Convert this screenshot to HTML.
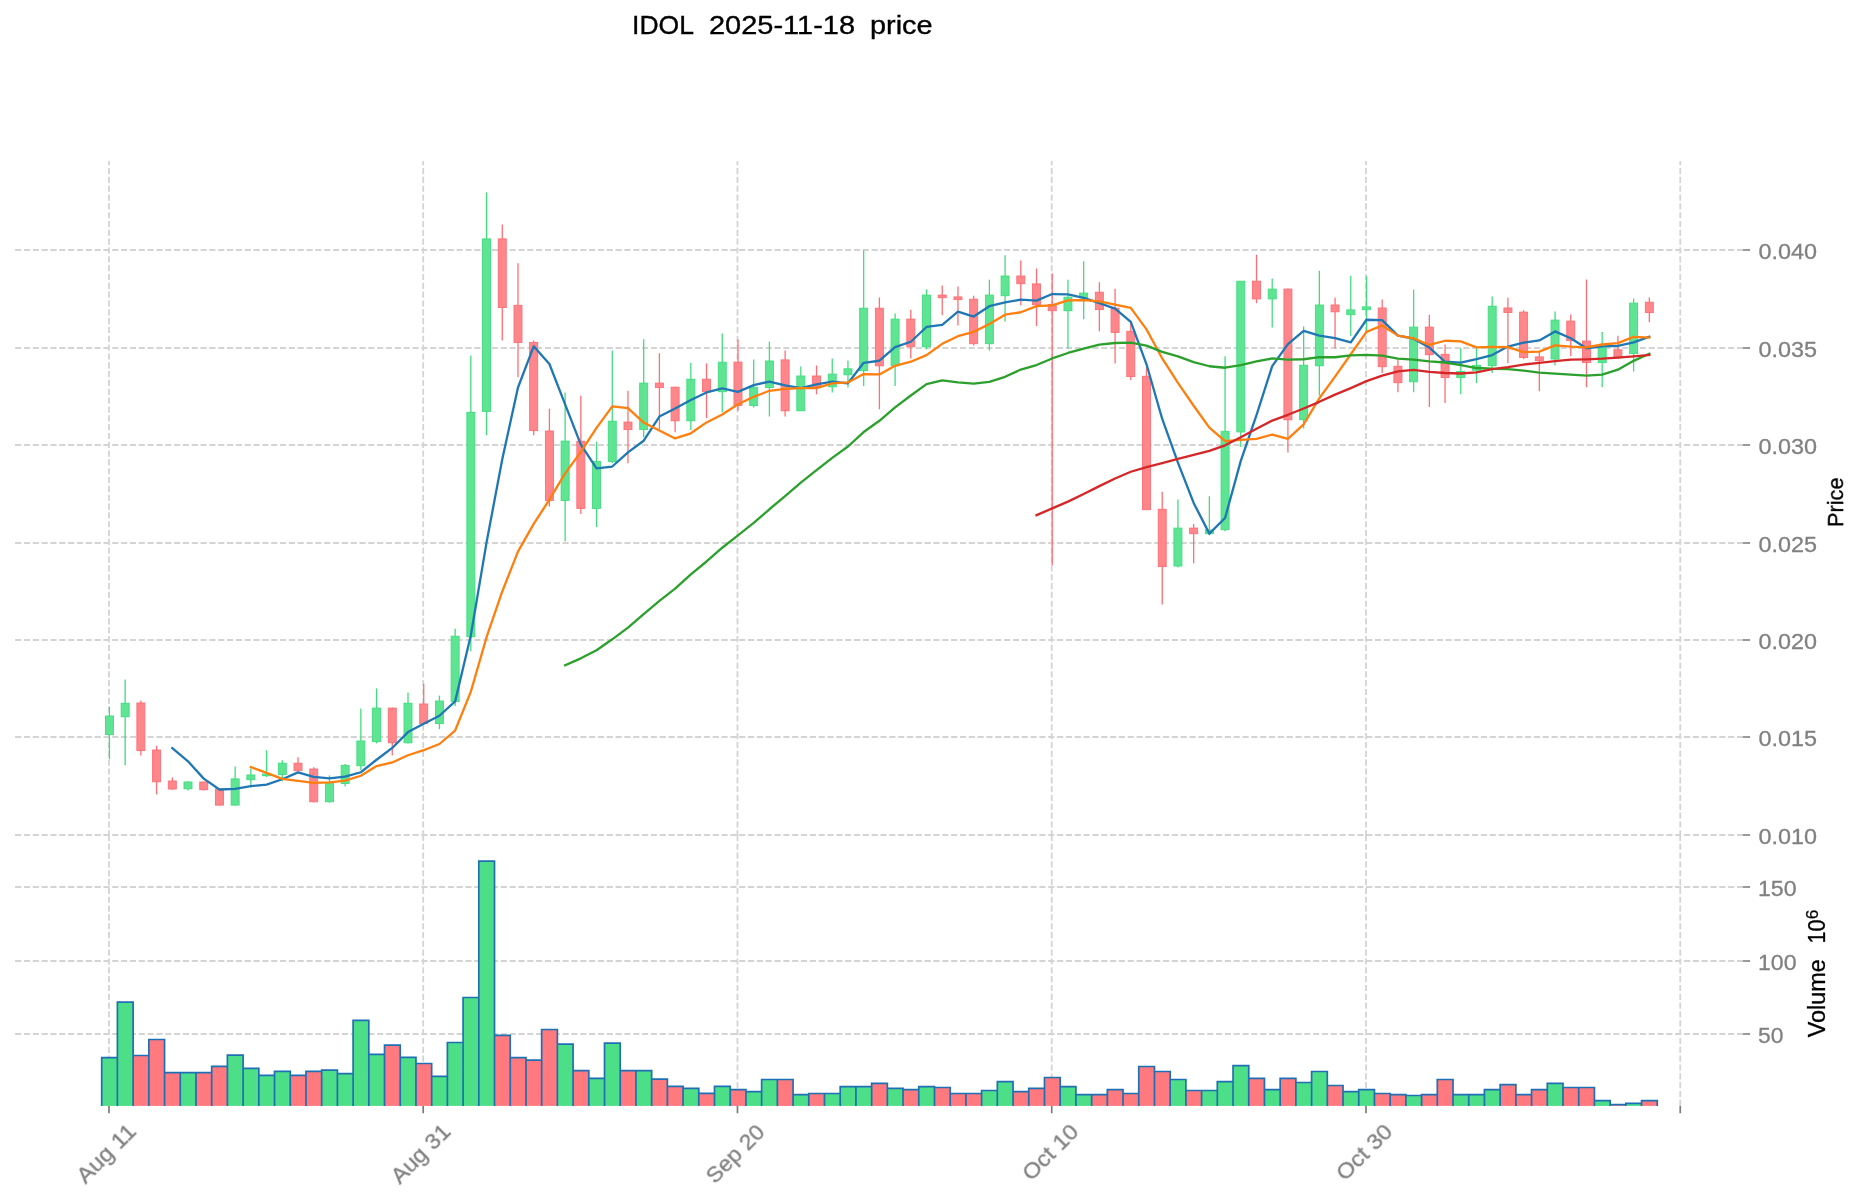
<!DOCTYPE html>
<html><head><meta charset="utf-8"><title>IDOL price</title>
<style>html,body{margin:0;padding:0;background:#fff;width:1860px;height:1202px;overflow:hidden}svg{display:block}</style>
</head><body>
<svg width="1860" height="1202" viewBox="0 0 1860 1202"><rect x="0" y="0" width="1860" height="1202" fill="#ffffff"/><path d="M15.10 835.00H1742.80M15.10 737.00H1742.80M15.10 640.00H1742.80M15.10 543.00H1742.80M15.10 445.00H1742.80M15.10 348.00H1742.80M15.10 250.00H1742.80M108.95 836.40V161.00M423.21 836.40V161.00M737.47 836.40V161.00M1051.73 836.40V161.00M1365.99 836.40V161.00M1680.25 836.40V161.00M15.10 1034.00H1742.80M15.10 961.00H1742.80M15.10 887.00H1742.80M108.95 1105.90V834.30M423.21 1105.90V834.30M737.47 1105.90V834.30M1051.73 1105.90V834.30M1365.99 1105.90V834.30M1680.25 1105.90V834.30" stroke="#d4d4d4" stroke-width="1.8" stroke-dasharray="6.17 2.66" fill="none"/><rect x="101.69" y="1057.60" width="15.71" height="48.30" fill="#4ddf87"/><rect x="117.40" y="1002.20" width="15.71" height="103.70" fill="#4ddf87"/><rect x="133.12" y="1055.50" width="15.71" height="50.40" fill="#ff797e"/><rect x="148.83" y="1039.50" width="15.71" height="66.40" fill="#ff797e"/><rect x="164.54" y="1072.70" width="15.71" height="33.20" fill="#ff797e"/><rect x="180.25" y="1072.70" width="15.71" height="33.20" fill="#4ddf87"/><rect x="195.97" y="1072.70" width="15.71" height="33.20" fill="#ff797e"/><rect x="211.68" y="1066.40" width="15.71" height="39.50" fill="#ff797e"/><rect x="227.39" y="1055.20" width="15.71" height="50.70" fill="#4ddf87"/><rect x="243.11" y="1068.40" width="15.71" height="37.50" fill="#4ddf87"/><rect x="258.82" y="1075.30" width="15.71" height="30.60" fill="#4ddf87"/><rect x="274.53" y="1071.40" width="15.71" height="34.50" fill="#4ddf87"/><rect x="290.25" y="1075.30" width="15.71" height="30.60" fill="#ff797e"/><rect x="305.96" y="1071.40" width="15.71" height="34.50" fill="#ff797e"/><rect x="321.67" y="1070.20" width="15.71" height="35.70" fill="#4ddf87"/><rect x="337.38" y="1073.60" width="15.71" height="32.30" fill="#4ddf87"/><rect x="353.10" y="1020.30" width="15.71" height="85.60" fill="#4ddf87"/><rect x="368.81" y="1054.30" width="15.71" height="51.60" fill="#4ddf87"/><rect x="384.52" y="1045.20" width="15.71" height="60.70" fill="#ff797e"/><rect x="400.24" y="1057.30" width="15.71" height="48.60" fill="#4ddf87"/><rect x="415.95" y="1063.50" width="15.71" height="42.40" fill="#ff797e"/><rect x="431.66" y="1076.40" width="15.71" height="29.50" fill="#4ddf87"/><rect x="447.38" y="1042.50" width="15.71" height="63.40" fill="#4ddf87"/><rect x="463.09" y="997.50" width="15.71" height="108.40" fill="#4ddf87"/><rect x="478.80" y="861.20" width="15.71" height="244.70" fill="#4ddf87"/><rect x="494.51" y="1035.30" width="15.71" height="70.60" fill="#ff797e"/><rect x="510.23" y="1057.60" width="15.71" height="48.30" fill="#ff797e"/><rect x="525.94" y="1060.20" width="15.71" height="45.70" fill="#ff797e"/><rect x="541.65" y="1029.50" width="15.71" height="76.40" fill="#ff797e"/><rect x="557.37" y="1044.20" width="15.71" height="61.70" fill="#4ddf87"/><rect x="573.08" y="1070.60" width="15.71" height="35.30" fill="#ff797e"/><rect x="588.79" y="1078.40" width="15.71" height="27.50" fill="#4ddf87"/><rect x="604.51" y="1043.10" width="15.71" height="62.80" fill="#4ddf87"/><rect x="620.22" y="1070.60" width="15.71" height="35.30" fill="#ff797e"/><rect x="635.93" y="1070.60" width="15.71" height="35.30" fill="#4ddf87"/><rect x="651.64" y="1079.20" width="15.71" height="26.70" fill="#ff797e"/><rect x="667.36" y="1086.40" width="15.71" height="19.50" fill="#ff797e"/><rect x="683.07" y="1088.30" width="15.71" height="17.60" fill="#4ddf87"/><rect x="698.78" y="1093.30" width="15.71" height="12.60" fill="#ff797e"/><rect x="714.50" y="1086.40" width="15.71" height="19.50" fill="#4ddf87"/><rect x="730.21" y="1089.60" width="15.71" height="16.30" fill="#ff797e"/><rect x="745.92" y="1091.70" width="15.71" height="14.20" fill="#4ddf87"/><rect x="761.64" y="1079.50" width="15.71" height="26.40" fill="#4ddf87"/><rect x="777.35" y="1079.50" width="15.71" height="26.40" fill="#ff797e"/><rect x="793.06" y="1094.60" width="15.71" height="11.30" fill="#4ddf87"/><rect x="808.77" y="1093.50" width="15.71" height="12.40" fill="#ff797e"/><rect x="824.49" y="1093.50" width="15.71" height="12.40" fill="#4ddf87"/><rect x="840.20" y="1086.60" width="15.71" height="19.30" fill="#4ddf87"/><rect x="855.91" y="1086.60" width="15.71" height="19.30" fill="#4ddf87"/><rect x="871.63" y="1083.40" width="15.71" height="22.50" fill="#ff797e"/><rect x="887.34" y="1088.40" width="15.71" height="17.50" fill="#4ddf87"/><rect x="903.05" y="1089.60" width="15.71" height="16.30" fill="#ff797e"/><rect x="918.77" y="1086.60" width="15.71" height="19.30" fill="#4ddf87"/><rect x="934.48" y="1087.50" width="15.71" height="18.40" fill="#ff797e"/><rect x="950.19" y="1093.50" width="15.71" height="12.40" fill="#ff797e"/><rect x="965.90" y="1093.50" width="15.71" height="12.40" fill="#ff797e"/><rect x="981.62" y="1090.50" width="15.71" height="15.40" fill="#4ddf87"/><rect x="997.33" y="1081.60" width="15.71" height="24.30" fill="#4ddf87"/><rect x="1013.04" y="1091.70" width="15.71" height="14.20" fill="#ff797e"/><rect x="1028.76" y="1088.40" width="15.71" height="17.50" fill="#ff797e"/><rect x="1044.47" y="1077.50" width="15.71" height="28.40" fill="#ff797e"/><rect x="1060.18" y="1086.60" width="15.71" height="19.30" fill="#4ddf87"/><rect x="1075.90" y="1094.60" width="15.71" height="11.30" fill="#4ddf87"/><rect x="1091.61" y="1094.60" width="15.71" height="11.30" fill="#ff797e"/><rect x="1107.32" y="1089.60" width="15.71" height="16.30" fill="#ff797e"/><rect x="1123.03" y="1093.50" width="15.71" height="12.40" fill="#ff797e"/><rect x="1138.75" y="1066.50" width="15.71" height="39.40" fill="#ff797e"/><rect x="1154.46" y="1071.50" width="15.71" height="34.40" fill="#ff797e"/><rect x="1170.17" y="1079.50" width="15.71" height="26.40" fill="#4ddf87"/><rect x="1185.89" y="1090.50" width="15.71" height="15.40" fill="#ff797e"/><rect x="1201.60" y="1090.50" width="15.71" height="15.40" fill="#4ddf87"/><rect x="1217.31" y="1081.60" width="15.71" height="24.30" fill="#4ddf87"/><rect x="1233.03" y="1065.60" width="15.71" height="40.30" fill="#4ddf87"/><rect x="1248.74" y="1078.40" width="15.71" height="27.50" fill="#ff797e"/><rect x="1264.45" y="1089.60" width="15.71" height="16.30" fill="#4ddf87"/><rect x="1280.16" y="1078.40" width="15.71" height="27.50" fill="#ff797e"/><rect x="1295.88" y="1082.50" width="15.71" height="23.40" fill="#4ddf87"/><rect x="1311.59" y="1071.50" width="15.71" height="34.40" fill="#4ddf87"/><rect x="1327.30" y="1085.50" width="15.71" height="20.40" fill="#ff797e"/><rect x="1343.02" y="1091.70" width="15.71" height="14.20" fill="#4ddf87"/><rect x="1358.73" y="1089.60" width="15.71" height="16.30" fill="#4ddf87"/><rect x="1374.44" y="1093.50" width="15.71" height="12.40" fill="#ff797e"/><rect x="1390.16" y="1094.60" width="15.71" height="11.30" fill="#ff797e"/><rect x="1405.87" y="1095.50" width="15.71" height="10.40" fill="#4ddf87"/><rect x="1421.58" y="1094.60" width="15.71" height="11.30" fill="#ff797e"/><rect x="1437.30" y="1079.50" width="15.71" height="26.40" fill="#ff797e"/><rect x="1453.01" y="1094.60" width="15.71" height="11.30" fill="#4ddf87"/><rect x="1468.72" y="1094.60" width="15.71" height="11.30" fill="#4ddf87"/><rect x="1484.43" y="1089.60" width="15.71" height="16.30" fill="#4ddf87"/><rect x="1500.15" y="1084.60" width="15.71" height="21.30" fill="#ff797e"/><rect x="1515.86" y="1094.60" width="15.71" height="11.30" fill="#ff797e"/><rect x="1531.57" y="1089.60" width="15.71" height="16.30" fill="#ff797e"/><rect x="1547.29" y="1083.40" width="15.71" height="22.50" fill="#4ddf87"/><rect x="1563.00" y="1087.50" width="15.71" height="18.40" fill="#ff797e"/><rect x="1578.71" y="1087.50" width="15.71" height="18.40" fill="#ff797e"/><rect x="1594.42" y="1100.60" width="15.71" height="5.30" fill="#4ddf87"/><rect x="1610.14" y="1104.70" width="15.71" height="1.20" fill="#ff797e"/><rect x="1625.85" y="1103.40" width="15.71" height="2.50" fill="#4ddf87"/><rect x="1641.56" y="1100.60" width="15.71" height="5.30" fill="#ff797e"/><path d="M101.69 1105.90V1057.60H117.41V1105.90M117.40 1105.90V1002.20H133.12V1105.90M133.12 1105.90V1055.50H148.84V1105.90M148.83 1105.90V1039.50H164.55V1105.90M164.54 1105.90V1072.70H180.26V1105.90M180.25 1105.90V1072.70H195.97V1105.90M195.97 1105.90V1072.70H211.69V1105.90M211.68 1105.90V1066.40H227.40V1105.90M227.39 1105.90V1055.20H243.11V1105.90M243.11 1105.90V1068.40H258.83V1105.90M258.82 1105.90V1075.30H274.54V1105.90M274.53 1105.90V1071.40H290.25V1105.90M290.25 1105.90V1075.30H305.97V1105.90M305.96 1105.90V1071.40H321.68V1105.90M321.67 1105.90V1070.20H337.39V1105.90M337.38 1105.90V1073.60H353.11V1105.90M353.10 1105.90V1020.30H368.82V1105.90M368.81 1105.90V1054.30H384.53V1105.90M384.52 1105.90V1045.20H400.24V1105.90M400.24 1105.90V1057.30H415.96V1105.90M415.95 1105.90V1063.50H431.67V1105.90M431.66 1105.90V1076.40H447.38V1105.90M447.38 1105.90V1042.50H463.10V1105.90M463.09 1105.90V997.50H478.81V1105.90M478.80 1105.90V861.20H494.52V1105.90M494.51 1105.90V1035.30H510.24V1105.90M510.23 1105.90V1057.60H525.95V1105.90M525.94 1105.90V1060.20H541.66V1105.90M541.65 1105.90V1029.50H557.37V1105.90M557.37 1105.90V1044.20H573.09V1105.90M573.08 1105.90V1070.60H588.80V1105.90M588.79 1105.90V1078.40H604.51V1105.90M604.51 1105.90V1043.10H620.23V1105.90M620.22 1105.90V1070.60H635.94V1105.90M635.93 1105.90V1070.60H651.65V1105.90M651.64 1105.90V1079.20H667.37V1105.90M667.36 1105.90V1086.40H683.08V1105.90M683.07 1105.90V1088.30H698.79V1105.90M698.78 1105.90V1093.30H714.50V1105.90M714.50 1105.90V1086.40H730.22V1105.90M730.21 1105.90V1089.60H745.93V1105.90M745.92 1105.90V1091.70H761.64V1105.90M761.64 1105.90V1079.50H777.36V1105.90M777.35 1105.90V1079.50H793.07V1105.90M793.06 1105.90V1094.60H808.78V1105.90M808.77 1105.90V1093.50H824.50V1105.90M824.49 1105.90V1093.50H840.21V1105.90M840.20 1105.90V1086.60H855.92V1105.90M855.91 1105.90V1086.60H871.63V1105.90M871.63 1105.90V1083.40H887.35V1105.90M887.34 1105.90V1088.40H903.06V1105.90M903.05 1105.90V1089.60H918.77V1105.90M918.77 1105.90V1086.60H934.49V1105.90M934.48 1105.90V1087.50H950.20V1105.90M950.19 1105.90V1093.50H965.91V1105.90M965.90 1105.90V1093.50H981.62V1105.90M981.62 1105.90V1090.50H997.34V1105.90M997.33 1105.90V1081.60H1013.05V1105.90M1013.04 1105.90V1091.70H1028.76V1105.90M1028.76 1105.90V1088.40H1044.48V1105.90M1044.47 1105.90V1077.50H1060.19V1105.90M1060.18 1105.90V1086.60H1075.90V1105.90M1075.90 1105.90V1094.60H1091.62V1105.90M1091.61 1105.90V1094.60H1107.33V1105.90M1107.32 1105.90V1089.60H1123.04V1105.90M1123.03 1105.90V1093.50H1138.75V1105.90M1138.75 1105.90V1066.50H1154.47V1105.90M1154.46 1105.90V1071.50H1170.18V1105.90M1170.17 1105.90V1079.50H1185.89V1105.90M1185.89 1105.90V1090.50H1201.61V1105.90M1201.60 1105.90V1090.50H1217.32V1105.90M1217.31 1105.90V1081.60H1233.03V1105.90M1233.03 1105.90V1065.60H1248.75V1105.90M1248.74 1105.90V1078.40H1264.46V1105.90M1264.45 1105.90V1089.60H1280.17V1105.90M1280.16 1105.90V1078.40H1295.88V1105.90M1295.88 1105.90V1082.50H1311.60V1105.90M1311.59 1105.90V1071.50H1327.31V1105.90M1327.30 1105.90V1085.50H1343.02V1105.90M1343.02 1105.90V1091.70H1358.74V1105.90M1358.73 1105.90V1089.60H1374.45V1105.90M1374.44 1105.90V1093.50H1390.16V1105.90M1390.16 1105.90V1094.60H1405.88V1105.90M1405.87 1105.90V1095.50H1421.59V1105.90M1421.58 1105.90V1094.60H1437.30V1105.90M1437.30 1105.90V1079.50H1453.01V1105.90M1453.01 1105.90V1094.60H1468.73V1105.90M1468.72 1105.90V1094.60H1484.44V1105.90M1484.43 1105.90V1089.60H1500.15V1105.90M1500.15 1105.90V1084.60H1515.87V1105.90M1515.86 1105.90V1094.60H1531.58V1105.90M1531.57 1105.90V1089.60H1547.29V1105.90M1547.29 1105.90V1083.40H1563.01V1105.90M1563.00 1105.90V1087.50H1578.72V1105.90M1578.71 1105.90V1087.50H1594.43V1105.90M1594.42 1105.90V1100.60H1610.14V1105.90M1610.14 1105.90V1104.70H1625.86V1105.90M1625.85 1105.90V1103.40H1641.57V1105.90M1641.56 1105.90V1100.60H1657.28V1105.90" stroke="#1f6fb5" stroke-width="1.7" fill="none"/><path d="M109.45 706.70V759.10" stroke="#40dd7e" stroke-width="1.3"/><rect x="105.45" y="716.00" width="8.00" height="18.60" fill="#5ee493" stroke="#40dd7e" stroke-width="0.9"/><path d="M125.16 679.50V765.30" stroke="#40dd7e" stroke-width="1.3"/><rect x="121.16" y="703.20" width="8.00" height="13.60" fill="#5ee493" stroke="#40dd7e" stroke-width="0.9"/><path d="M140.88 700.50V755.40" stroke="#ff6e74" stroke-width="1.3"/><rect x="136.88" y="703.00" width="8.00" height="47.60" fill="#ff868b" stroke="#ff6e74" stroke-width="0.9"/><path d="M156.59 745.70V794.40" stroke="#ff6e74" stroke-width="1.3"/><rect x="152.59" y="750.00" width="8.00" height="31.80" fill="#ff868b" stroke="#ff6e74" stroke-width="0.9"/><path d="M172.30 777.40V789.70" stroke="#ff6e74" stroke-width="1.3"/><rect x="168.30" y="781.00" width="8.00" height="8.00" fill="#ff868b" stroke="#ff6e74" stroke-width="0.9"/><path d="M188.01 781.20V790.50" stroke="#40dd7e" stroke-width="1.3"/><rect x="184.01" y="782.00" width="8.00" height="6.80" fill="#5ee493" stroke="#40dd7e" stroke-width="0.9"/><path d="M203.73 781.80V790.50" stroke="#ff6e74" stroke-width="1.3"/><rect x="199.73" y="782.00" width="8.00" height="7.70" fill="#ff868b" stroke="#ff6e74" stroke-width="0.9"/><path d="M219.44 788.80V805.70" stroke="#ff6e74" stroke-width="1.3"/><rect x="215.44" y="789.00" width="8.00" height="16.10" fill="#ff868b" stroke="#ff6e74" stroke-width="0.9"/><path d="M235.15 766.40V805.70" stroke="#40dd7e" stroke-width="1.3"/><rect x="231.15" y="778.90" width="8.00" height="26.20" fill="#5ee493" stroke="#40dd7e" stroke-width="0.9"/><path d="M250.87 768.40V787.60" stroke="#40dd7e" stroke-width="1.3"/><rect x="246.87" y="775.00" width="8.00" height="4.70" fill="#5ee493" stroke="#40dd7e" stroke-width="0.9"/><path d="M266.58 750.30V777.10" stroke="#40dd7e" stroke-width="1.3"/><rect x="262.58" y="774.00" width="8.00" height="1.70" fill="#5ee493" stroke="#40dd7e" stroke-width="0.9"/><path d="M282.29 760.20V781.20" stroke="#40dd7e" stroke-width="1.3"/><rect x="278.29" y="763.20" width="8.00" height="11.30" fill="#5ee493" stroke="#40dd7e" stroke-width="0.9"/><path d="M298.01 757.30V770.70" stroke="#ff6e74" stroke-width="1.3"/><rect x="294.01" y="763.20" width="8.00" height="7.50" fill="#ff868b" stroke="#ff6e74" stroke-width="0.9"/><path d="M313.72 767.20V802.20" stroke="#ff6e74" stroke-width="1.3"/><rect x="309.72" y="769.00" width="8.00" height="32.80" fill="#ff868b" stroke="#ff6e74" stroke-width="0.9"/><path d="M329.43 775.40V802.50" stroke="#40dd7e" stroke-width="1.3"/><rect x="325.43" y="782.50" width="8.00" height="19.30" fill="#5ee493" stroke="#40dd7e" stroke-width="0.9"/><path d="M345.14 764.10V786.40" stroke="#40dd7e" stroke-width="1.3"/><rect x="341.14" y="765.30" width="8.00" height="18.20" fill="#5ee493" stroke="#40dd7e" stroke-width="0.9"/><path d="M360.86 708.40V770.10" stroke="#40dd7e" stroke-width="1.3"/><rect x="356.86" y="741.00" width="8.00" height="24.70" fill="#5ee493" stroke="#40dd7e" stroke-width="0.9"/><path d="M376.57 688.40V743.40" stroke="#40dd7e" stroke-width="1.3"/><rect x="372.57" y="708.10" width="8.00" height="33.50" fill="#5ee493" stroke="#40dd7e" stroke-width="0.9"/><path d="M392.28 707.50V755.60" stroke="#ff6e74" stroke-width="1.3"/><rect x="388.28" y="708.10" width="8.00" height="34.70" fill="#ff868b" stroke="#ff6e74" stroke-width="0.9"/><path d="M408.00 692.40V743.40" stroke="#40dd7e" stroke-width="1.3"/><rect x="404.00" y="703.20" width="8.00" height="39.60" fill="#5ee493" stroke="#40dd7e" stroke-width="0.9"/><path d="M423.71 683.70V723.60" stroke="#ff6e74" stroke-width="1.3"/><rect x="419.71" y="704.00" width="8.00" height="19.60" fill="#ff868b" stroke="#ff6e74" stroke-width="0.9"/><path d="M439.42 695.60V729.20" stroke="#40dd7e" stroke-width="1.3"/><rect x="435.42" y="701.00" width="8.00" height="22.60" fill="#5ee493" stroke="#40dd7e" stroke-width="0.9"/><path d="M455.14 628.80V706.00" stroke="#40dd7e" stroke-width="1.3"/><rect x="451.14" y="636.20" width="8.00" height="65.40" fill="#5ee493" stroke="#40dd7e" stroke-width="0.9"/><path d="M470.85 355.60V651.30" stroke="#40dd7e" stroke-width="1.3"/><rect x="466.85" y="412.30" width="8.00" height="224.50" fill="#5ee493" stroke="#40dd7e" stroke-width="0.9"/><path d="M486.56 192.40V435.20" stroke="#40dd7e" stroke-width="1.3"/><rect x="482.56" y="238.90" width="8.00" height="172.50" fill="#5ee493" stroke="#40dd7e" stroke-width="0.9"/><path d="M502.27 224.50V340.50" stroke="#ff6e74" stroke-width="1.3"/><rect x="498.27" y="238.90" width="8.00" height="68.60" fill="#ff868b" stroke="#ff6e74" stroke-width="0.9"/><path d="M517.99 263.30V377.30" stroke="#ff6e74" stroke-width="1.3"/><rect x="513.99" y="305.30" width="8.00" height="37.20" fill="#ff868b" stroke="#ff6e74" stroke-width="0.9"/><path d="M533.70 340.60V435.20" stroke="#ff6e74" stroke-width="1.3"/><rect x="529.70" y="342.40" width="8.00" height="88.20" fill="#ff868b" stroke="#ff6e74" stroke-width="0.9"/><path d="M549.41 408.70V506.60" stroke="#ff6e74" stroke-width="1.3"/><rect x="545.41" y="431.00" width="8.00" height="69.50" fill="#ff868b" stroke="#ff6e74" stroke-width="0.9"/><path d="M565.13 392.60V541.30" stroke="#40dd7e" stroke-width="1.3"/><rect x="561.13" y="441.10" width="8.00" height="59.40" fill="#5ee493" stroke="#40dd7e" stroke-width="0.9"/><path d="M580.84 395.80V514.10" stroke="#ff6e74" stroke-width="1.3"/><rect x="576.84" y="441.20" width="8.00" height="67.20" fill="#ff868b" stroke="#ff6e74" stroke-width="0.9"/><path d="M596.55 441.70V527.00" stroke="#40dd7e" stroke-width="1.3"/><rect x="592.55" y="461.40" width="8.00" height="47.00" fill="#5ee493" stroke="#40dd7e" stroke-width="0.9"/><path d="M612.27 350.60V463.20" stroke="#40dd7e" stroke-width="1.3"/><rect x="608.27" y="421.20" width="8.00" height="40.20" fill="#5ee493" stroke="#40dd7e" stroke-width="0.9"/><path d="M627.98 390.80V463.20" stroke="#ff6e74" stroke-width="1.3"/><rect x="623.98" y="422.10" width="8.00" height="7.50" fill="#ff868b" stroke="#ff6e74" stroke-width="0.9"/><path d="M643.69 339.30V437.30" stroke="#40dd7e" stroke-width="1.3"/><rect x="639.69" y="383.10" width="8.00" height="46.50" fill="#5ee493" stroke="#40dd7e" stroke-width="0.9"/><path d="M659.40 353.20V429.20" stroke="#ff6e74" stroke-width="1.3"/><rect x="655.40" y="383.10" width="8.00" height="4.50" fill="#ff868b" stroke="#ff6e74" stroke-width="0.9"/><path d="M675.12 386.80V432.30" stroke="#ff6e74" stroke-width="1.3"/><rect x="671.12" y="387.20" width="8.00" height="33.60" fill="#ff868b" stroke="#ff6e74" stroke-width="0.9"/><path d="M690.83 362.70V430.10" stroke="#40dd7e" stroke-width="1.3"/><rect x="686.83" y="379.20" width="8.00" height="41.60" fill="#5ee493" stroke="#40dd7e" stroke-width="0.9"/><path d="M706.54 363.40V418.00" stroke="#ff6e74" stroke-width="1.3"/><rect x="702.54" y="379.20" width="8.00" height="12.50" fill="#ff868b" stroke="#ff6e74" stroke-width="0.9"/><path d="M722.26 333.60V412.20" stroke="#40dd7e" stroke-width="1.3"/><rect x="718.26" y="362.20" width="8.00" height="29.50" fill="#5ee493" stroke="#40dd7e" stroke-width="0.9"/><path d="M737.97 339.60V410.80" stroke="#ff6e74" stroke-width="1.3"/><rect x="733.97" y="362.10" width="8.00" height="43.40" fill="#ff868b" stroke="#ff6e74" stroke-width="0.9"/><path d="M753.68 359.60V407.50" stroke="#40dd7e" stroke-width="1.3"/><rect x="749.68" y="387.30" width="8.00" height="18.20" fill="#5ee493" stroke="#40dd7e" stroke-width="0.9"/><path d="M769.40 341.60V416.50" stroke="#40dd7e" stroke-width="1.3"/><rect x="765.40" y="361.00" width="8.00" height="26.60" fill="#5ee493" stroke="#40dd7e" stroke-width="0.9"/><path d="M785.11 350.60V416.50" stroke="#ff6e74" stroke-width="1.3"/><rect x="781.11" y="359.90" width="8.00" height="50.90" fill="#ff868b" stroke="#ff6e74" stroke-width="0.9"/><path d="M800.82 366.60V410.80" stroke="#40dd7e" stroke-width="1.3"/><rect x="796.82" y="376.00" width="8.00" height="34.80" fill="#5ee493" stroke="#40dd7e" stroke-width="0.9"/><path d="M816.53 365.50V394.30" stroke="#ff6e74" stroke-width="1.3"/><rect x="812.53" y="376.00" width="8.00" height="10.80" fill="#ff868b" stroke="#ff6e74" stroke-width="0.9"/><path d="M832.25 358.40V392.50" stroke="#40dd7e" stroke-width="1.3"/><rect x="828.25" y="374.10" width="8.00" height="12.70" fill="#5ee493" stroke="#40dd7e" stroke-width="0.9"/><path d="M847.96 360.60V387.60" stroke="#40dd7e" stroke-width="1.3"/><rect x="843.96" y="368.80" width="8.00" height="6.00" fill="#5ee493" stroke="#40dd7e" stroke-width="0.9"/><path d="M863.67 250.20V386.10" stroke="#40dd7e" stroke-width="1.3"/><rect x="859.67" y="308.20" width="8.00" height="62.40" fill="#5ee493" stroke="#40dd7e" stroke-width="0.9"/><path d="M879.39 297.40V409.30" stroke="#ff6e74" stroke-width="1.3"/><rect x="875.39" y="308.20" width="8.00" height="57.60" fill="#ff868b" stroke="#ff6e74" stroke-width="0.9"/><path d="M895.10 313.40V386.10" stroke="#40dd7e" stroke-width="1.3"/><rect x="891.10" y="319.10" width="8.00" height="46.40" fill="#5ee493" stroke="#40dd7e" stroke-width="0.9"/><path d="M910.81 309.70V358.40" stroke="#ff6e74" stroke-width="1.3"/><rect x="906.81" y="319.10" width="8.00" height="27.60" fill="#ff868b" stroke="#ff6e74" stroke-width="0.9"/><path d="M926.53 289.40V349.40" stroke="#40dd7e" stroke-width="1.3"/><rect x="922.53" y="295.10" width="8.00" height="51.60" fill="#5ee493" stroke="#40dd7e" stroke-width="0.9"/><path d="M942.24 285.40V315.20" stroke="#ff6e74" stroke-width="1.3"/><rect x="938.24" y="295.10" width="8.00" height="2.60" fill="#ff868b" stroke="#ff6e74" stroke-width="0.9"/><path d="M957.95 286.40V325.40" stroke="#ff6e74" stroke-width="1.3"/><rect x="953.95" y="296.90" width="8.00" height="2.70" fill="#ff868b" stroke="#ff6e74" stroke-width="0.9"/><path d="M973.66 295.70V345.60" stroke="#ff6e74" stroke-width="1.3"/><rect x="969.66" y="299.20" width="8.00" height="44.50" fill="#ff868b" stroke="#ff6e74" stroke-width="0.9"/><path d="M989.38 279.70V350.60" stroke="#40dd7e" stroke-width="1.3"/><rect x="985.38" y="295.10" width="8.00" height="48.60" fill="#5ee493" stroke="#40dd7e" stroke-width="0.9"/><path d="M1005.09 255.30V321.60" stroke="#40dd7e" stroke-width="1.3"/><rect x="1001.09" y="276.00" width="8.00" height="19.70" fill="#5ee493" stroke="#40dd7e" stroke-width="0.9"/><path d="M1020.80 260.50V305.50" stroke="#ff6e74" stroke-width="1.3"/><rect x="1016.80" y="276.00" width="8.00" height="7.70" fill="#ff868b" stroke="#ff6e74" stroke-width="0.9"/><path d="M1036.52 268.50V326.10" stroke="#ff6e74" stroke-width="1.3"/><rect x="1032.52" y="283.90" width="8.00" height="20.80" fill="#ff868b" stroke="#ff6e74" stroke-width="0.9"/><path d="M1052.23 273.50V565.20" stroke="#ff6e74" stroke-width="1.3"/><rect x="1048.23" y="304.50" width="8.00" height="6.20" fill="#ff868b" stroke="#ff6e74" stroke-width="0.9"/><path d="M1067.94 279.70V348.90" stroke="#40dd7e" stroke-width="1.3"/><rect x="1063.94" y="297.20" width="8.00" height="13.50" fill="#5ee493" stroke="#40dd7e" stroke-width="0.9"/><path d="M1083.66 261.20V319.20" stroke="#40dd7e" stroke-width="1.3"/><rect x="1079.66" y="293.10" width="8.00" height="4.80" fill="#5ee493" stroke="#40dd7e" stroke-width="0.9"/><path d="M1099.37 282.20V331.30" stroke="#ff6e74" stroke-width="1.3"/><rect x="1095.37" y="292.20" width="8.00" height="17.40" fill="#ff868b" stroke="#ff6e74" stroke-width="0.9"/><path d="M1115.08 288.70V363.40" stroke="#ff6e74" stroke-width="1.3"/><rect x="1111.08" y="308.10" width="8.00" height="24.30" fill="#ff868b" stroke="#ff6e74" stroke-width="0.9"/><path d="M1130.79 321.90V380.30" stroke="#ff6e74" stroke-width="1.3"/><rect x="1126.79" y="331.30" width="8.00" height="45.30" fill="#ff868b" stroke="#ff6e74" stroke-width="0.9"/><path d="M1146.51 366.90V509.70" stroke="#ff6e74" stroke-width="1.3"/><rect x="1142.51" y="376.30" width="8.00" height="133.40" fill="#ff868b" stroke="#ff6e74" stroke-width="0.9"/><path d="M1162.22 491.80V604.60" stroke="#ff6e74" stroke-width="1.3"/><rect x="1158.22" y="509.30" width="8.00" height="57.30" fill="#ff868b" stroke="#ff6e74" stroke-width="0.9"/><path d="M1177.93 499.40V567.60" stroke="#40dd7e" stroke-width="1.3"/><rect x="1173.93" y="528.10" width="8.00" height="37.90" fill="#5ee493" stroke="#40dd7e" stroke-width="0.9"/><path d="M1193.65 524.10V563.20" stroke="#ff6e74" stroke-width="1.3"/><rect x="1189.65" y="528.10" width="8.00" height="5.60" fill="#ff868b" stroke="#ff6e74" stroke-width="0.9"/><path d="M1209.36 496.20V535.30" stroke="#40dd7e" stroke-width="1.3"/><rect x="1205.36" y="530.00" width="8.00" height="3.70" fill="#5ee493" stroke="#40dd7e" stroke-width="0.9"/><path d="M1225.07 356.20V531.30" stroke="#40dd7e" stroke-width="1.3"/><rect x="1221.07" y="431.30" width="8.00" height="98.40" fill="#5ee493" stroke="#40dd7e" stroke-width="0.9"/><path d="M1240.79 281.20V446.90" stroke="#40dd7e" stroke-width="1.3"/><rect x="1236.79" y="281.20" width="8.00" height="150.70" fill="#5ee493" stroke="#40dd7e" stroke-width="0.9"/><path d="M1256.50 254.60V303.20" stroke="#ff6e74" stroke-width="1.3"/><rect x="1252.50" y="281.20" width="8.00" height="17.70" fill="#ff868b" stroke="#ff6e74" stroke-width="0.9"/><path d="M1272.21 278.40V327.50" stroke="#40dd7e" stroke-width="1.3"/><rect x="1268.21" y="289.10" width="8.00" height="9.80" fill="#5ee493" stroke="#40dd7e" stroke-width="0.9"/><path d="M1287.92 288.50V452.40" stroke="#ff6e74" stroke-width="1.3"/><rect x="1283.92" y="289.10" width="8.00" height="130.70" fill="#ff868b" stroke="#ff6e74" stroke-width="0.9"/><path d="M1303.64 326.40V428.50" stroke="#40dd7e" stroke-width="1.3"/><rect x="1299.64" y="365.20" width="8.00" height="54.60" fill="#5ee493" stroke="#40dd7e" stroke-width="0.9"/><path d="M1319.35 270.80V395.50" stroke="#40dd7e" stroke-width="1.3"/><rect x="1315.35" y="305.00" width="8.00" height="60.80" fill="#5ee493" stroke="#40dd7e" stroke-width="0.9"/><path d="M1335.06 297.70V348.40" stroke="#ff6e74" stroke-width="1.3"/><rect x="1331.06" y="305.00" width="8.00" height="6.80" fill="#ff868b" stroke="#ff6e74" stroke-width="0.9"/><path d="M1350.78 275.70V336.10" stroke="#40dd7e" stroke-width="1.3"/><rect x="1346.78" y="309.90" width="8.00" height="4.80" fill="#5ee493" stroke="#40dd7e" stroke-width="0.9"/><path d="M1366.49 276.20V333.50" stroke="#40dd7e" stroke-width="1.3"/><rect x="1362.49" y="306.90" width="8.00" height="2.80" fill="#5ee493" stroke="#40dd7e" stroke-width="0.9"/><path d="M1382.20 299.50V373.10" stroke="#ff6e74" stroke-width="1.3"/><rect x="1378.20" y="308.00" width="8.00" height="58.70" fill="#ff868b" stroke="#ff6e74" stroke-width="0.9"/><path d="M1397.92 359.60V392.20" stroke="#ff6e74" stroke-width="1.3"/><rect x="1393.92" y="366.30" width="8.00" height="16.40" fill="#ff868b" stroke="#ff6e74" stroke-width="0.9"/><path d="M1413.63 289.60V392.20" stroke="#40dd7e" stroke-width="1.3"/><rect x="1409.63" y="327.10" width="8.00" height="54.70" fill="#5ee493" stroke="#40dd7e" stroke-width="0.9"/><path d="M1429.34 314.80V407.00" stroke="#ff6e74" stroke-width="1.3"/><rect x="1425.34" y="327.10" width="8.00" height="27.60" fill="#ff868b" stroke="#ff6e74" stroke-width="0.9"/><path d="M1445.06 344.50V403.10" stroke="#ff6e74" stroke-width="1.3"/><rect x="1441.06" y="354.30" width="8.00" height="23.30" fill="#ff868b" stroke="#ff6e74" stroke-width="0.9"/><path d="M1460.77 348.30V394.30" stroke="#40dd7e" stroke-width="1.3"/><rect x="1456.77" y="371.40" width="8.00" height="6.20" fill="#5ee493" stroke="#40dd7e" stroke-width="0.9"/><path d="M1476.48 348.30V383.00" stroke="#40dd7e" stroke-width="1.3"/><rect x="1472.48" y="365.30" width="8.00" height="4.90" fill="#5ee493" stroke="#40dd7e" stroke-width="0.9"/><path d="M1492.19 296.40V373.10" stroke="#40dd7e" stroke-width="1.3"/><rect x="1488.19" y="306.20" width="8.00" height="59.50" fill="#5ee493" stroke="#40dd7e" stroke-width="0.9"/><path d="M1507.91 297.80V363.20" stroke="#ff6e74" stroke-width="1.3"/><rect x="1503.91" y="308.00" width="8.00" height="4.50" fill="#ff868b" stroke="#ff6e74" stroke-width="0.9"/><path d="M1523.62 310.20V359.00" stroke="#ff6e74" stroke-width="1.3"/><rect x="1519.62" y="312.10" width="8.00" height="45.50" fill="#ff868b" stroke="#ff6e74" stroke-width="0.9"/><path d="M1539.33 352.00V391.30" stroke="#ff6e74" stroke-width="1.3"/><rect x="1535.33" y="356.90" width="8.00" height="3.80" fill="#ff868b" stroke="#ff6e74" stroke-width="0.9"/><path d="M1555.05 311.60V365.40" stroke="#40dd7e" stroke-width="1.3"/><rect x="1551.05" y="320.10" width="8.00" height="38.90" fill="#5ee493" stroke="#40dd7e" stroke-width="0.9"/><path d="M1570.76 314.50V356.20" stroke="#ff6e74" stroke-width="1.3"/><rect x="1566.76" y="321.10" width="8.00" height="19.50" fill="#ff868b" stroke="#ff6e74" stroke-width="0.9"/><path d="M1586.47 279.50V387.30" stroke="#ff6e74" stroke-width="1.3"/><rect x="1582.47" y="341.10" width="8.00" height="21.50" fill="#ff868b" stroke="#ff6e74" stroke-width="0.9"/><path d="M1602.18 331.90V387.30" stroke="#40dd7e" stroke-width="1.3"/><rect x="1598.18" y="348.00" width="8.00" height="14.60" fill="#5ee493" stroke="#40dd7e" stroke-width="0.9"/><path d="M1617.90 335.70V359.00" stroke="#ff6e74" stroke-width="1.3"/><rect x="1613.90" y="349.80" width="8.00" height="7.80" fill="#ff868b" stroke="#ff6e74" stroke-width="0.9"/><path d="M1633.61 298.50V371.50" stroke="#40dd7e" stroke-width="1.3"/><rect x="1629.61" y="303.10" width="8.00" height="50.50" fill="#5ee493" stroke="#40dd7e" stroke-width="0.9"/><path d="M1649.32 297.50V322.20" stroke="#ff6e74" stroke-width="1.3"/><rect x="1645.32" y="302.20" width="8.00" height="10.40" fill="#ff868b" stroke="#ff6e74" stroke-width="0.9"/><path d="M172.30 748.12L188.01 761.32L203.73 778.62L219.44 789.52L235.15 788.94L250.87 786.14L266.58 784.54L282.29 779.24L298.01 772.36L313.72 776.94L329.43 778.44L345.14 776.70L360.86 772.26L376.57 759.74L392.28 747.94L408.00 732.08L423.71 723.74L439.42 715.74L455.14 701.36L470.85 635.26L486.56 542.40L502.27 459.18L517.99 387.48L533.70 346.36L549.41 364.00L565.13 404.44L580.84 444.62L596.55 468.40L612.27 466.52L627.98 452.34L643.69 440.74L659.40 416.58L675.12 408.46L690.83 400.06L706.54 392.48L722.26 388.30L737.97 391.88L753.68 385.18L769.40 381.54L785.11 385.36L800.82 388.12L816.53 384.38L832.25 381.74L847.96 383.30L863.67 362.78L879.39 360.74L895.10 347.20L910.81 341.72L926.53 326.98L942.24 324.88L957.95 311.64L973.66 316.56L989.38 306.24L1005.09 302.42L1020.80 299.62L1036.52 300.64L1052.23 294.04L1067.94 294.46L1083.66 297.88L1099.37 303.06L1115.08 308.60L1130.79 321.78L1146.51 364.28L1162.22 418.98L1177.93 462.68L1193.65 502.94L1209.36 533.62L1225.07 517.94L1240.79 460.86L1256.50 415.02L1272.21 366.10L1287.92 344.06L1303.64 330.84L1319.35 335.60L1335.06 338.18L1350.78 342.34L1366.49 319.76L1382.20 320.06L1397.92 335.60L1413.63 338.66L1429.34 347.62L1445.06 361.76L1460.77 362.70L1476.48 359.22L1492.19 355.04L1507.91 346.60L1523.62 342.60L1539.33 340.46L1555.05 331.42L1570.76 338.30L1586.47 348.32L1602.18 346.40L1617.90 345.78L1633.61 342.38L1649.32 336.78" stroke="#1f77b4" stroke-width="2.3" fill="none" stroke-linejoin="round" stroke-linecap="square"/><path d="M250.87 767.13L266.58 772.93L282.29 778.93L298.01 780.94L313.72 782.94L329.43 782.29L345.14 780.62L360.86 775.75L376.57 766.05L392.28 762.44L408.00 755.26L423.71 750.22L439.42 744.00L455.14 730.55L470.85 691.60L486.56 637.24L502.27 591.46L517.99 551.61L533.70 523.86L549.41 499.63L565.13 473.42L580.84 451.90L596.55 427.94L612.27 406.44L627.98 408.17L643.69 422.59L659.40 430.60L675.12 438.43L690.83 433.29L706.54 422.41L722.26 414.52L737.97 404.23L753.68 396.82L769.40 390.80L785.11 388.92L800.82 388.21L816.53 388.13L832.25 383.46L847.96 382.42L863.67 374.07L879.39 374.43L895.10 365.79L910.81 361.73L926.53 355.14L942.24 343.83L957.95 336.19L973.66 331.88L989.38 323.98L1005.09 314.70L1020.80 312.25L1036.52 306.14L1052.23 305.30L1067.94 300.35L1083.66 300.15L1099.37 301.34L1115.08 304.62L1130.79 307.91L1146.51 329.37L1162.22 358.43L1177.93 382.87L1193.65 405.77L1209.36 427.70L1225.07 441.11L1240.79 439.92L1256.50 438.85L1272.21 434.52L1287.92 438.84L1303.64 424.39L1319.35 398.23L1335.06 376.60L1350.78 354.22L1366.49 331.91L1382.20 325.45L1397.92 335.60L1413.63 338.42L1429.34 344.98L1445.06 340.76L1460.77 341.38L1476.48 347.41L1492.19 346.85L1507.91 347.11L1523.62 352.18L1539.33 351.58L1555.05 345.32L1570.76 346.67L1586.47 347.46L1602.18 344.50L1617.90 343.12L1633.61 336.90L1649.32 337.54" stroke="#ff7f0e" stroke-width="2.3" fill="none" stroke-linejoin="round" stroke-linecap="square"/><path d="M565.13 665.27L580.84 658.35L596.55 650.29L612.27 639.31L627.98 627.57L643.69 614.04L659.40 600.89L675.12 588.60L690.83 574.40L706.54 561.49L722.26 547.73L737.97 535.45L753.68 522.92L769.40 509.26L785.11 496.23L800.82 482.68L816.53 470.06L832.25 457.83L847.96 446.52L863.67 432.04L879.39 420.79L895.10 407.31L910.81 395.50L926.53 384.13L942.24 380.31L957.95 382.33L973.66 383.54L989.38 381.96L1005.09 376.80L1020.80 369.58L1036.52 365.03L1052.23 358.44L1067.94 352.97L1083.66 348.70L1099.37 344.70L1115.08 343.01L1130.79 342.64L1146.51 345.60L1162.22 351.85L1177.93 356.40L1193.65 362.11L1209.36 366.26L1225.07 367.73L1240.79 365.07L1256.50 361.34L1272.21 358.44L1287.92 359.54L1303.64 359.25L1319.35 357.12L1335.06 357.24L1350.78 355.38L1366.49 354.97L1382.20 355.64L1397.92 358.56L1413.63 359.54L1429.34 361.37L1445.06 362.50L1460.77 365.05L1476.48 368.02L1492.19 368.77L1507.91 369.03L1523.62 370.60L1539.33 372.71L1555.05 373.61L1570.76 374.65L1586.47 375.65L1602.18 374.70L1617.90 369.63L1633.61 360.85L1649.32 353.66" stroke="#2ca02c" stroke-width="2.3" fill="none" stroke-linejoin="round" stroke-linecap="square"/><path d="M1036.52 515.15L1052.23 508.40L1067.94 501.63L1083.66 494.00L1099.37 486.13L1115.08 478.52L1130.79 471.77L1146.51 467.10L1162.22 463.12L1177.93 458.94L1193.65 454.92L1209.36 450.86L1225.07 445.32L1240.79 437.17L1256.50 428.78L1272.21 420.56L1287.92 414.80L1303.64 408.54L1319.35 401.82L1335.06 394.64L1350.78 388.08L1366.49 381.14L1382.20 375.57L1397.92 371.34L1413.63 369.92L1429.34 371.85L1445.06 373.02L1460.77 373.50L1476.48 372.41L1492.19 369.18L1507.91 367.03L1523.62 364.52L1539.33 362.84L1555.05 361.15L1570.76 359.67L1586.47 359.33L1602.18 358.67L1617.90 357.62L1633.61 356.35L1649.32 355.03" stroke="#d62728" stroke-width="2.3" fill="none" stroke-linejoin="round" stroke-linecap="square"/><path d="M1742.80 835.00H1750.10M1742.80 737.00H1750.10M1742.80 640.00H1750.10M1742.80 543.00H1750.10M1742.80 445.00H1750.10M1742.80 348.00H1750.10M1742.80 250.00H1750.10M1742.80 1034.00H1750.10M1742.80 961.00H1750.10M1742.80 887.00H1750.10M108.95 1105.90V1113.20M423.21 1105.90V1113.20M737.47 1105.90V1113.20M1051.73 1105.90V1113.20M1365.99 1105.90V1113.20M1680.25 1105.90V1113.20" stroke="#7a7a7a" stroke-width="1.67" fill="none"/><g style="filter:grayscale(1)"><text x="1758.4" y="843.60" font-family="'Liberation Sans', sans-serif" font-size="22.8" fill="#808080" stroke="#808080" stroke-width="0.3" textLength="58.6" lengthAdjust="spacingAndGlyphs">0.010</text><text x="1758.4" y="745.60" font-family="'Liberation Sans', sans-serif" font-size="22.8" fill="#808080" stroke="#808080" stroke-width="0.3" textLength="58.6" lengthAdjust="spacingAndGlyphs">0.015</text><text x="1758.4" y="648.60" font-family="'Liberation Sans', sans-serif" font-size="22.8" fill="#808080" stroke="#808080" stroke-width="0.3" textLength="58.6" lengthAdjust="spacingAndGlyphs">0.020</text><text x="1758.4" y="551.60" font-family="'Liberation Sans', sans-serif" font-size="22.8" fill="#808080" stroke="#808080" stroke-width="0.3" textLength="58.6" lengthAdjust="spacingAndGlyphs">0.025</text><text x="1758.4" y="453.60" font-family="'Liberation Sans', sans-serif" font-size="22.8" fill="#808080" stroke="#808080" stroke-width="0.3" textLength="58.6" lengthAdjust="spacingAndGlyphs">0.030</text><text x="1758.4" y="356.60" font-family="'Liberation Sans', sans-serif" font-size="22.8" fill="#808080" stroke="#808080" stroke-width="0.3" textLength="58.6" lengthAdjust="spacingAndGlyphs">0.035</text><text x="1758.4" y="258.60" font-family="'Liberation Sans', sans-serif" font-size="22.8" fill="#808080" stroke="#808080" stroke-width="0.3" textLength="58.6" lengthAdjust="spacingAndGlyphs">0.040</text><text x="1758.0" y="1042.80" font-family="'Liberation Sans', sans-serif" font-size="22.8" fill="#808080" stroke="#808080" stroke-width="0.3" textLength="25.4" lengthAdjust="spacingAndGlyphs">50</text><text x="1758.0" y="969.80" font-family="'Liberation Sans', sans-serif" font-size="22.8" fill="#808080" stroke="#808080" stroke-width="0.3" textLength="38.6" lengthAdjust="spacingAndGlyphs">100</text><text x="1758.0" y="895.80" font-family="'Liberation Sans', sans-serif" font-size="22.8" fill="#808080" stroke="#808080" stroke-width="0.3" textLength="38.6" lengthAdjust="spacingAndGlyphs">150</text><text transform="translate(106.45 1153.70) rotate(-45)" x="0" y="7.0" text-anchor="middle" font-family="'Liberation Sans', sans-serif" font-size="22.6" fill="#808080" stroke="#808080" stroke-width="0.3" textLength="73.6" lengthAdjust="spacingAndGlyphs">Aug 11</text><text transform="translate(420.81 1154.00) rotate(-45)" x="0" y="7.0" text-anchor="middle" font-family="'Liberation Sans', sans-serif" font-size="22.6" fill="#808080" stroke="#808080" stroke-width="0.3" textLength="73.6" lengthAdjust="spacingAndGlyphs">Aug 31</text><text transform="translate(735.47 1154.10) rotate(-45)" x="0" y="7.0" text-anchor="middle" font-family="'Liberation Sans', sans-serif" font-size="22.6" fill="#808080" stroke="#808080" stroke-width="0.3" textLength="72.3" lengthAdjust="spacingAndGlyphs">Sep 20</text><text transform="translate(1050.53 1152.50) rotate(-45)" x="0" y="7.0" text-anchor="middle" font-family="'Liberation Sans', sans-serif" font-size="22.6" fill="#808080" stroke="#808080" stroke-width="0.3" textLength="69.0" lengthAdjust="spacingAndGlyphs">Oct 10</text><text transform="translate(1364.39 1152.50) rotate(-45)" x="0" y="7.0" text-anchor="middle" font-family="'Liberation Sans', sans-serif" font-size="22.6" fill="#808080" stroke="#808080" stroke-width="0.3" textLength="69.0" lengthAdjust="spacingAndGlyphs">Oct 30</text><text x="632.0" y="34.3" font-family="'Liberation Sans', sans-serif" font-size="25.5" fill="#000000" stroke="#000000" stroke-width="0.35" textLength="62.0" lengthAdjust="spacingAndGlyphs">IDOL</text><text x="709.0" y="34.3" font-family="'Liberation Sans', sans-serif" font-size="25.5" fill="#000000" stroke="#000000" stroke-width="0.35" textLength="146.0" lengthAdjust="spacingAndGlyphs">2025-11-18</text><text x="870.0" y="34.3" font-family="'Liberation Sans', sans-serif" font-size="25.5" fill="#000000" stroke="#000000" stroke-width="0.35" textLength="62.5" lengthAdjust="spacingAndGlyphs">price</text><text transform="translate(1843.1 527.0) rotate(-90)" x="0" y="0" font-family="'Liberation Sans', sans-serif" font-size="22" fill="#000000" stroke="#000000" stroke-width="0.3" textLength="49.6" lengthAdjust="spacingAndGlyphs">Price</text><text transform="translate(1825.4 1037.3) rotate(-90)" x="0" y="0" font-family="'Liberation Sans', sans-serif" font-size="23" fill="#000000" stroke="#000000" stroke-width="0.3" textLength="78" lengthAdjust="spacingAndGlyphs">Volume</text><text transform="translate(1825.4 943.6) rotate(-90)" x="0" y="0" font-family="'Liberation Sans', sans-serif" font-size="23" fill="#000000" stroke="#000000" stroke-width="0.3" textLength="24" lengthAdjust="spacingAndGlyphs">10</text><text transform="translate(1817.6 919.2) rotate(-90)" x="0" y="0" font-family="'Liberation Sans', sans-serif" font-size="16" fill="#000000" stroke="#000000" stroke-width="0.3" textLength="9.6" lengthAdjust="spacingAndGlyphs">6</text></g></svg>
</body></html>
